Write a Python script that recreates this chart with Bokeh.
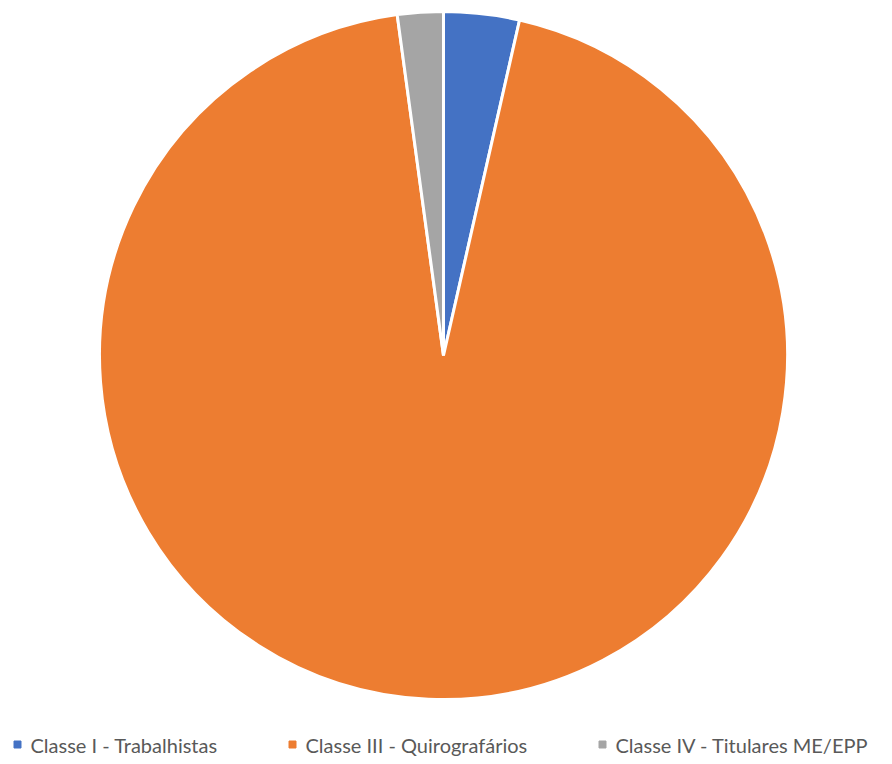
import math
from bokeh.plotting import figure
from bokeh.models import Range1d, ColumnDataSource
from bokeh.core.properties import value
from bokeh.embed import file_html
from bokeh.resources import INLINE

categories = ["Classe I - Trabalhistas", "Classe III - Quirografários", "Classe IV - Titulares ME/EPP"]
shares = [3.55, 94.3, 2.15]
colors = ["#4472C4", "#ED7D31", "#A5A5A5"]

W, H = 884, 756
p = figure(width=W, height=H, output_backend="svg", toolbar_location=None,
           x_range=Range1d(0, W), y_range=Range1d(-H, 0),
           min_border=0, outline_line_color=None)
p.axis.visible = False
p.grid.visible = False

cx, cy, r = 443, -355, 344
total = sum(shares)
starts, ends = [], []
acc = 0.0
for s in shares:
    a0 = math.pi / 2 - 2 * math.pi * acc / total
    acc += s
    a1 = math.pi / 2 - 2 * math.pi * acc / total
    starts.append(a0)
    ends.append(a1)

src = ColumnDataSource(dict(x=[cx] * 3, y=[cy] * 3, start=starts, end=ends, color=colors))
p.wedge(x="x", y="y", radius=r, start_angle="start", end_angle="end", direction="clock",
        fill_color="color", line_color="white", line_width=3, source=src)

lx = [17, 292, 602]
ly = [-744] * 3
p.scatter(x=lx, y=ly, marker="square", size=7, color=colors)
p.text(x=[v + 13 for v in lx], y=ly, text=categories, text_baseline="middle",
       text_font=value("Lato"), text_font_size="20px", text_color="#595959")

open("out.html", "w").write(file_html(p, INLINE))
